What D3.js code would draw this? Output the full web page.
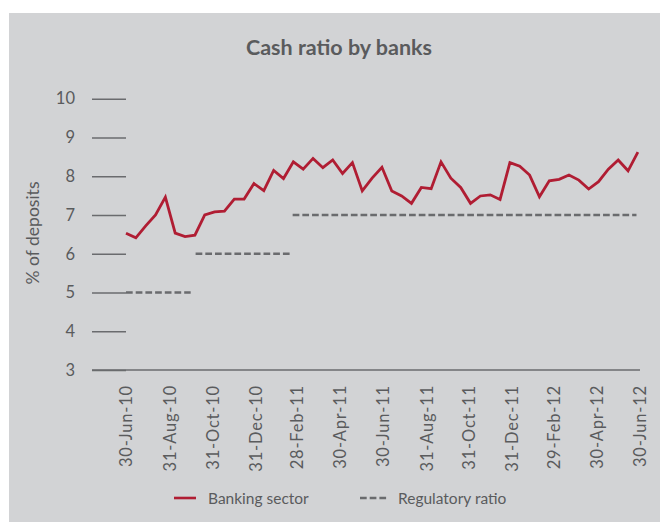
<!DOCTYPE html>
<html>
<head>
<meta charset="utf-8">
<script src="https://cdn.jsdelivr.net/npm/d3@7"></script>
<style>
  html, body { margin: 0; padding: 0; background: #ffffff; }
  svg { display: block; }
  text { font-family: Lato, "Open Sans", sans-serif; fill: #5a5b5d; }
</style>
</head>
<body>
<svg id="chart" width="660" height="522"></svg>
<script>
// Fortnightly observation dates, starting 30 June 2010
const startDate = new Date(2010, 5, 30);
const obsCount = 53;

// Banking sector cash ratio, % of deposits
const bankingSector = [
  6.53, 6.41, 6.72, 7.00, 7.46, 6.53, 6.44, 6.48, 7.00, 7.08,
  7.10, 7.41, 7.41, 7.81, 7.63, 8.15, 7.94, 8.37, 8.18, 8.46,
  8.22, 8.42, 8.07, 8.35, 7.62, 7.95, 8.23, 7.62, 7.49, 7.30,
  7.71, 7.68, 8.37, 7.95, 7.71, 7.30, 7.49, 7.52, 7.40, 8.35,
  8.26, 8.03, 7.47, 7.88, 7.92, 8.03, 7.90, 7.67, 7.86, 8.18,
  8.42, 8.14, 8.62
];

// Regulatory minimum, in force between the given dates
const regStart = ["30-Jun-10", "07-Oct-10", "22-Feb-11"];
const regEnd   = ["30-Sep-10", "18-Feb-11", "25-Jun-12"];
const regValue = [5, 6, 7];

// Axis labels
const xTickLabels = [
  "30-Jun-10", "31-Aug-10", "31-Oct-10", "31-Dec-10", "28-Feb-11", "30-Apr-11",
  "30-Jun-11", "31-Aug-11", "31-Oct-11", "31-Dec-11", "29-Feb-12", "30-Apr-12",
  "30-Jun-12"
];
const yTicks = [3, 4, 5, 6, 7, 8, 9, 10];

const title = "Cash ratio by banks";
const yTitle = "% of deposits";
const legendLabels = ["Banking sector", "Regulatory ratio"];

const RED = "#b01d33";
const GREY = "#6a6b6e";

const parse = d3.timeParse("%d-%b-%y");
const dates = d3.range(obsCount).map(i => d3.timeDay.offset(startDate, 14 * i));
const tickDates = xTickLabels.map(parse);

const svg = d3.select("#chart");

// panel background
svg.append("rect")
  .attr("x", 9).attr("y", 13)
  .attr("width", 651).attr("height", 509)
  .attr("fill", "#d2d3d5");

const x = d3.scaleTime()
  .domain([parse("30-Jun-10"), parse("30-Jun-12")])
  .range([126, 640]);

const y = d3.scaleLinear()
  .domain([3, 10])
  .range([370, 98.7]);

// title
svg.append("text")
  .attr("x", 339).attr("y", 55)
  .attr("text-anchor", "middle")
  .style("font-size", "21.5px")
  .style("font-weight", "700")
  .text(title);

// y axis: short tick rules with labels
const yAxis = svg.append("g")
  .attr("transform", "translate(126,0)")
  .call(d3.axisLeft(y).tickValues(yTicks).tickSize(34).tickPadding(17).tickFormat(d3.format("d")));
yAxis.select(".domain").remove();
yAxis.selectAll(".tick line").attr("stroke", GREY).attr("stroke-width", 1.4);
yAxis.selectAll(".tick text")
  .style("font-size", "16.5px")
  .style("font-family", "Lato, sans-serif")
  .attr("fill", "#5a5b5d");

// x axis baseline and rotated date labels
const xAxis = svg.append("g")
  .attr("transform", `translate(0,${y(3)})`)
  .call(d3.axisBottom(x).tickValues(tickDates).tickSize(0)
    .tickFormat((d, i) => xTickLabels[i]));
xAxis.select(".domain").remove();
xAxis.append("line")
  .attr("x1", 92).attr("x2", 640)
  .attr("stroke", GREY).attr("stroke-width", 1.4);
xAxis.selectAll(".tick text")
  .attr("transform", "rotate(-90)")
  .attr("text-anchor", "end")
  .attr("x", -15).attr("y", 0).attr("dy", "0.35em")
  .style("font-size", "16.5px")
  .style("letter-spacing", "0.8px")
  .style("font-family", "Lato, sans-serif")
  .attr("fill", "#5a5b5d");

// y axis title
svg.append("text")
  .attr("transform", "translate(39,233) rotate(-90)")
  .attr("text-anchor", "middle")
  .style("font-size", "17.5px")
  .text(yTitle);

// regulatory ratio steps
const regSegments = regValue.map((v, i) => ({ from: parse(regStart[i]), to: parse(regEnd[i]), value: v }));
svg.append("g").selectAll("line")
  .data(regSegments)
  .join("line")
  .attr("x1", d => x(d.from)).attr("x2", d => x(d.to))
  .attr("y1", d => y(d.value)).attr("y2", d => y(d.value))
  .attr("stroke", GREY)
  .attr("stroke-width", 2.6)
  .attr("stroke-dasharray", "6.7,3");

// banking sector line
const line = d3.line()
  .x((d, i) => x(dates[i]))
  .y(d => y(d));
svg.append("path")
  .datum(bankingSector)
  .attr("d", line)
  .attr("fill", "none")
  .attr("stroke", RED)
  .attr("stroke-width", 2.8)
  .attr("stroke-linejoin", "miter");

// legend
const legend = svg.append("g");
legend.append("line")
  .attr("x1", 174).attr("x2", 196).attr("y1", 498).attr("y2", 498)
  .attr("stroke", RED).attr("stroke-width", 2.6);
legend.append("text")
  .attr("x", 208).attr("y", 503.5)
  .style("font-size", "15.5px")
  .text(legendLabels[0]);
legend.append("line")
  .attr("x1", 360).attr("x2", 388).attr("y1", 498).attr("y2", 498)
  .attr("stroke", GREY).attr("stroke-width", 2.6)
  .attr("stroke-dasharray", "6.7,3");
legend.append("text")
  .attr("x", 398).attr("y", 503.5)
  .style("font-size", "15.5px")
  .text(legendLabels[1]);
</script>
</body>
</html>
